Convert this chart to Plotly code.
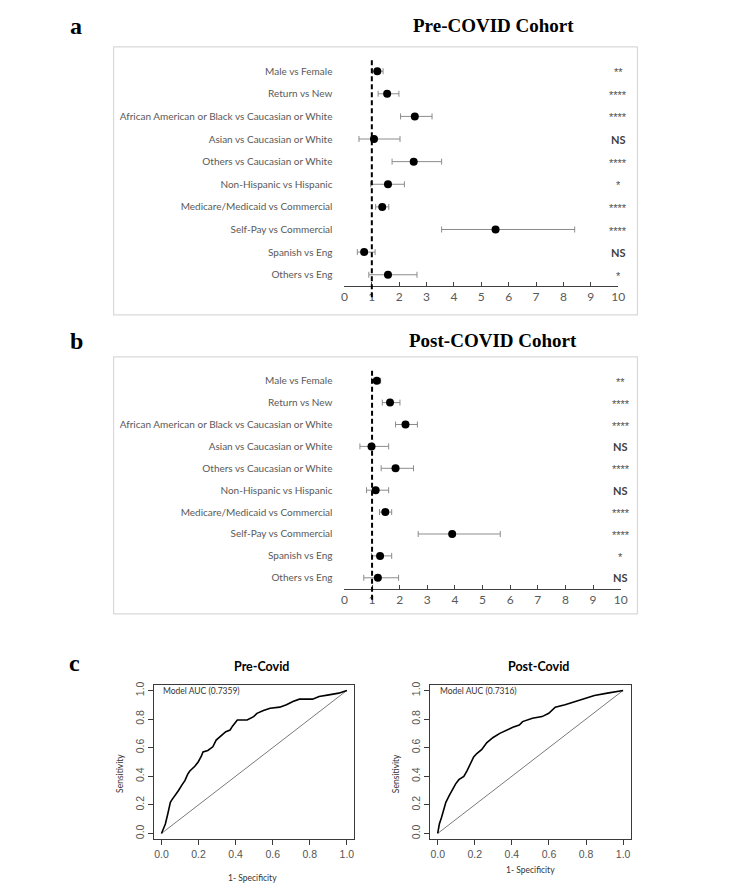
import plotly.graph_objects as go

# page has an 8px body margin: the figure is drawn at (8,8)
OFF = 8
W, H = 750 - OFF, 890 - OFF
def px(x): return (x - OFF) / W
def py(y): return 1 - (y - OFF) / H

# ---------------- data ----------------
categories = ["Male vs Female", "Return vs New",
              "African American or Black vs Caucasian or White",
              "Asian vs Caucasian or White", "Others vs Caucasian or White",
              "Non-Hispanic vs Hispanic", "Medicare/Medicaid vs Commercial",
              "Self-Pay vs Commercial", "Spanish vs Eng", "Others vs Eng"]

pre_or = [1.20, 1.56, 2.57, 1.08, 2.53, 1.59, 1.38, 5.52, 0.72, 1.59]
pre_lo = [1.02, 1.23, 2.05, 0.53, 1.74, 0.96, 1.14, 3.55, 0.47, 0.89]
pre_hi = [1.41, 1.99, 3.20, 2.03, 3.55, 2.19, 1.62, 8.41, 1.12, 2.65]
pre_sig = ["**", "****", "****", "NS", "****", "*", "****", "****", "NS", "*"]

post_or = [1.17, 1.65, 2.21, 0.98, 1.85, 1.13, 1.48, 3.90, 1.29, 1.21]
post_lo = [0.98, 1.37, 1.85, 0.56, 1.33, 0.80, 1.27, 2.67, 0.98, 0.70]
post_hi = [1.31, 2.01, 2.64, 1.60, 2.50, 1.60, 1.71, 5.64, 1.71, 1.96]
post_sig = ["**", "****", "****", "NS", "****", "NS", "****", "****", "*", "NS"]

x_ticks = [0, 1, 2, 3, 4, 5, 6, 7, 8, 9, 10]

pre_fpr = [0.0, 0.021, 0.034, 0.048, 0.056, 0.074, 0.092, 0.109, 0.127, 0.141, 0.153,
           0.18, 0.198, 0.215, 0.224, 0.25, 0.277, 0.295, 0.321, 0.347, 0.37, 0.383,
           0.409, 0.462, 0.497, 0.515, 0.55, 0.586, 0.638, 0.674, 0.709, 0.744, 0.815,
           0.85, 0.903, 0.956, 1.0]
pre_tpr = [0.0, 0.066, 0.136, 0.218, 0.235, 0.265, 0.30, 0.336, 0.371, 0.413, 0.437,
           0.47, 0.50, 0.54, 0.57, 0.58, 0.606, 0.653, 0.681, 0.711, 0.723, 0.75,
           0.793, 0.793, 0.817, 0.84, 0.859, 0.876, 0.883, 0.90, 0.923, 0.939, 0.939,
           0.958, 0.969, 0.981, 1.0]

post_fpr = [0.0, 0.009, 0.021, 0.032, 0.044, 0.062, 0.079, 0.097, 0.114, 0.141, 0.158,
            0.176, 0.194, 0.211, 0.238, 0.264, 0.299, 0.335, 0.37, 0.405, 0.44, 0.458,
            0.511, 0.563, 0.599, 0.634, 0.687, 0.739, 0.792, 0.845, 0.915, 0.968, 1.0]
post_tpr = [0.0, 0.066, 0.113, 0.171, 0.218, 0.265, 0.305, 0.347, 0.376, 0.399, 0.437,
            0.488, 0.535, 0.559, 0.587, 0.634, 0.671, 0.70, 0.723, 0.742, 0.758, 0.782,
            0.805, 0.817, 0.84, 0.883, 0.90, 0.923, 0.946, 0.965, 0.981, 0.993, 1.0]

roc_ticks = [0.0, 0.2, 0.4, 0.6, 0.8, 1.0]
roc_ticktext = ["0.0", "0.2", "0.4", "0.6", "0.8", "1.0"]

# ---------------- figure ----------------
fig = go.Figure()
GRAY = "#595959"
LAB_FONT = "Lato"

def forest(ors, los, his, xa, ya):
    fig.add_trace(go.Scatter(
        x=ors, y=categories, mode="markers",
        marker=dict(color="black", size=8),
        error_x=dict(type="data", symmetric=False,
                     array=[h - o for h, o in zip(his, ors)],
                     arrayminus=[o - l for o, l in zip(ors, los)],
                     color="#8c8c8c", thickness=1, width=3),
        xaxis=xa, yaxis=ya, showlegend=False, cliponaxis=False))

forest(pre_or, pre_lo, pre_hi, "x", "y")
forest(post_or, post_lo, post_hi, "x2", "y2")

for fpr, tpr, xa, ya in [(pre_fpr, pre_tpr, "x3", "y3"), (post_fpr, post_tpr, "x4", "y4")]:
    fig.add_trace(go.Scatter(x=[0, 1], y=[0, 1], mode="lines",
                             line=dict(color="#7a7a7a", width=1),
                             xaxis=xa, yaxis=ya, showlegend=False))
    fig.add_trace(go.Scatter(x=fpr, y=tpr, mode="lines",
                             line=dict(color="black", width=1.6),
                             xaxis=xa, yaxis=ya, showlegend=False))

forest_x = dict(range=[0, 10], tickvals=x_ticks, showline=True, linecolor="#404040",
                linewidth=1, ticks="inside", ticklen=4, tickcolor="#404040",
                showgrid=False, zeroline=False,
                tickfont=dict(family=LAB_FONT, size=12, color=GRAY))
forest_y = dict(type="category", range=[9.5, -0.5], showgrid=False, zeroline=False,
                showline=False, ticks="outside", ticklen=9, tickcolor="rgba(0,0,0,0)",
                tickfont=dict(family=LAB_FONT, size=10, color=GRAY))

roc_common = dict(range=[-0.04, 1.04], tickvals=roc_ticks, ticktext=roc_ticktext,
                  showline=True, mirror=True, linecolor="#3a3a3a", linewidth=1,
                  ticks="outside", ticklen=5, tickcolor="#3a3a3a", showgrid=False,
                  zeroline=False,
                  tickfont=dict(family="Liberation Sans", size=10.5, color="#555555"))

fig.update_layout(
    width=W, height=H, margin=dict(l=0, r=0, t=0, b=0),
    paper_bgcolor="white", plot_bgcolor="white",
    xaxis=dict(domain=[px(346), px(623.5)], anchor="y", **forest_x),
    yaxis=dict(domain=[py(284), py(57)], anchor="x", **forest_y),
    xaxis2=dict(domain=[px(346), px(626)], anchor="y2", **forest_x),
    yaxis2=dict(domain=[py(587.7), py(368)], anchor="x2", **forest_y),
    xaxis3=dict(domain=[px(153), px(356)], anchor="y3", **roc_common),
    yaxis3=dict(domain=[py(839), py(684)], anchor="x3", tickangle=-90, **roc_common),
    xaxis4=dict(domain=[px(433), px(636)], anchor="y4", **roc_common),
    yaxis4=dict(domain=[py(839), py(684)], anchor="x4", tickangle=-90, **roc_common),
)

shapes = []
for top, bot in [(44, 313), (355, 613)]:
    shapes.append(dict(type="rect", xref="paper", yref="paper",
                       x0=px(112), x1=px(643), y0=py(bot), y1=py(top),
                       line=dict(color="#d9d9d9", width=1.2), layer="below"))
for xr, yr in [("x", "y domain"), ("x2", "y2 domain")]:
    shapes.append(dict(type="line", xref=xr, yref=yr, x0=1, x1=1, y0=-0.05, y1=1,
                       line=dict(color="black", width=2, dash="5px,3px")))
fig.update_layout(shapes=shapes)

ann = []
def txt(x, y, s, size, family, color="black", bold=False, xanchor="center", **kw):
    if bold:
        s = "<b>" + s + "</b>"
    ann.append(dict(x=x, y=y, xref="paper", yref="paper", text=s, showarrow=False,
                    xanchor=xanchor, yanchor="middle",
                    font=dict(size=size, family=family, color=color), **kw))

SERIF = "Liberation Serif"
txt(px(74), py(23), "a", 24, SERIF, bold=True)
txt(px(497), py(23), "Pre-COVID Cohort", 19, SERIF, bold=True)
txt(px(74), py(339), "b", 24, SERIF, bold=True)
txt(px(497), py(339), "Post-COVID Cohort", 19, SERIF, bold=True)
txt(px(72), py(662), "c", 24, SERIF, bold=True)

for sigs, xr, yr in [(pre_sig, "x", "y"), (post_sig, "x2", "y2")]:
    for cat, s in zip(categories, sigs):
        is_ns = s == "NS"
        ann.append(dict(x=10, y=cat, xref=xr, yref=yr, showarrow=False,
                        text=("<b>" + s + "</b>") if is_ns else s,
                        xanchor="center", yanchor="middle",
                        yshift=(0 if is_ns else -1),
                        font=dict(size=11 if is_ns else 11,
                                  family=LAB_FONT if is_ns else "Liberation Sans",
                                  color="#404040" if is_ns else "#505050")))

txt(px(262), py(666), "Pre-Covid", 12.5, LAB_FONT, bold=True)
txt(px(543), py(666), "Post-Covid", 12.5, LAB_FONT, bold=True)
for xr, yr, auc in [("x3", "y3", "Model AUC (0.7359)"), ("x4", "y4", "Model AUC (0.7316)")]:
    ann.append(dict(x=0.0, y=1.0, xref=xr, yref=yr, text=auc, showarrow=False,
                    xanchor="left", yanchor="middle", yshift=-1,
                    font=dict(size=8.5, family=LAB_FONT, color="#333333")))
txt(px(253), py(878), "1- Specificity", 8.5, LAB_FONT, color="#333333")
txt(px(535), py(870), "1- Specificity", 8.5, LAB_FONT, color="#333333")
txt(px(119), py(773), "Sensitivity", 8.5, LAB_FONT, color="#333333", textangle=-90)
txt(px(399), py(773), "Sensitivity", 8.5, LAB_FONT, color="#333333", textangle=-90)

fig.update_layout(annotations=ann)
fig.write_html("out.html")
